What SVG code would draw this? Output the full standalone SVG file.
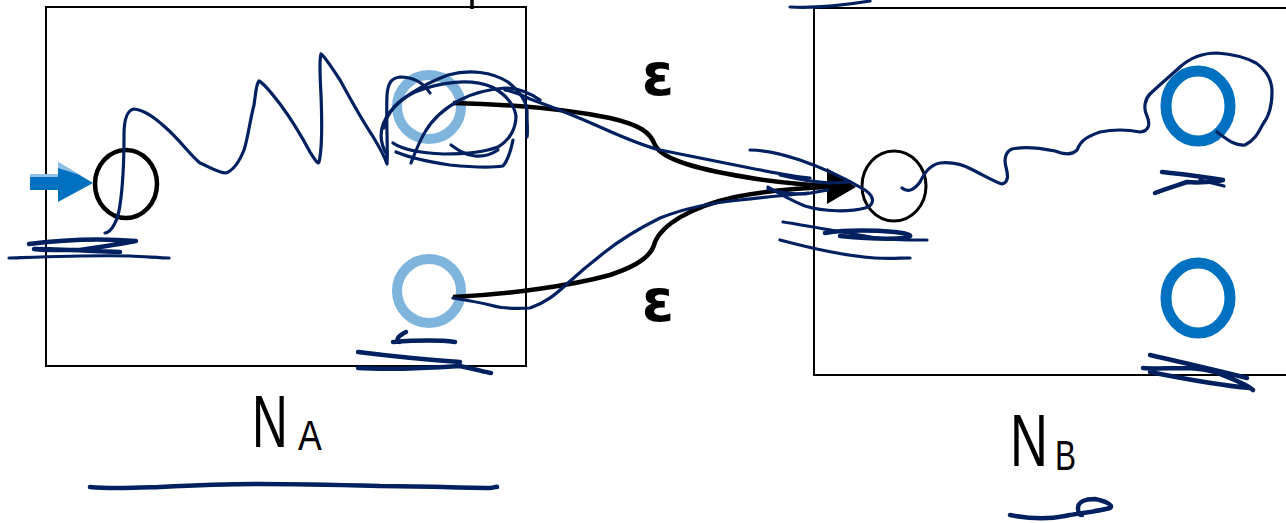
<svg xmlns="http://www.w3.org/2000/svg" width="1286" height="523" viewBox="0 0 1286 523">
<defs>
<style>
.box{fill:none;stroke:#000;stroke-width:2}
.ink{fill:none;stroke:#002060;stroke-width:3.2;stroke-linecap:round;stroke-linejoin:round}
.inkb{fill:none;stroke:#002060;stroke-width:4.5;stroke-linecap:round;stroke-linejoin:round}
.lb{fill:none;stroke:#7fb4dc;stroke-width:10}
.db{fill:none;stroke:#0070c0;stroke-width:11}
.conn{fill:none;stroke:#000;stroke-width:4.5}
.eps{font-family:"DejaVu Sans","Liberation Sans",sans-serif;font-weight:bold;font-size:58px;text-anchor:middle}
.lbl{font-family:"Liberation Sans",sans-serif;font-size:75px}
.sub{font-family:"Liberation Sans",sans-serif;font-size:42px}
</style>
</defs>
<rect width="1286" height="523" fill="#fff"/>
<line x1="472" y1="0" x2="472" y2="9" stroke="#000" stroke-width="3.5"/>
<g id="NA">
<rect class="box" x="46" y="7" width="480" height="359"/>
<text class="lbl" transform="translate(252,447) scale(0.66,1)">N</text>
<text class="sub" transform="translate(298,450) scale(0.85,1)">A</text>
</g>
<g id="NB">
<rect class="box" x="814" y="8" width="480" height="367"/>
<text class="lbl" transform="translate(1010,466) scale(0.7,1)">N</text>
<text class="sub" transform="translate(1055,470) scale(0.75,1)">B</text>
</g>
<g id="start-arrow">
<rect x="30" y="174" width="30" height="16" fill="#0070c0"/>
<polygon points="58,162 93,183 58,202" fill="#0070c0"/>
<polygon points="30,174 58,174 58,162 80,175 58,168 58,177 30,177" fill="#8fc0e6"/>
</g>
<g id="A-start"><ellipse cx="126" cy="184" rx="31" ry="34" fill="none" stroke="#000" stroke-width="4.5"/></g>
<g id="A-final1"><circle cx="429" cy="107" r="32" class="lb"/></g>
<g id="A-final2"><circle cx="429" cy="291" r="32" class="lb"/></g>
<g id="B-start"><ellipse cx="894" cy="186" rx="32" ry="35" fill="none" stroke="#000" stroke-width="3"/></g>
<g id="B-final1"><ellipse cx="1198" cy="106" rx="32" ry="35" class="db"/></g>
<g id="B-final2"><ellipse cx="1198" cy="298" rx="32" ry="35" class="db"/></g>
<g id="connectors">
<path class="conn" d="M453,103 C500,104 560,108 610,118 C640,125 650,132 655,145 C662,160 700,170 757,179 C785,183 805,185 830,186"/>
<path class="conn" d="M453,297 C510,294 570,286 610,275 C640,265 652,255 655,242 C662,225 690,207 735,197 C770,190 800,188 830,187"/>
<polygon points="827,168 856,187 827,204" fill="#000"/>
<text class="eps" x="658" y="95">ε</text>
<text class="eps" x="658" y="321">ε</text>
</g>
<g id="scribbles">
<path class="ink" d="M105,233 C112,232 118,220 120,205 C123,185 124,160 124,135 C124,118 128,110 134,109 C145,110 155,118 165,127 C180,140 190,155 200,163 C210,167 218,173 226,173 C234,170 240,160 244,150 C248,138 250,120 254,105 C256,92 256,84 259,81 C265,84 272,94 280,104 C292,120 302,137 310,152 C315,160 318,165 319,162 C322,150 322,120 321,95 C320,75 319,60 321,54 C326,58 332,68 340,80 C352,102 362,120 372,135 C380,148 385,158 387,164 C388,150 386,120 387,95 C388,82 392,78 400,77 C412,77 423,82 430,93"/>
<path class="ink" d="M387,155 C378,140 380,125 390,112 C402,97 422,85 448,75 C470,69 492,72 508,82 C520,92 528,102 527,115 C527,125 528,132 527,137"/>
<path class="ink" d="M393,143 C403,150 420,153 444,154 C465,154 485,152 498,147 C510,140 516,128 516,116 C514,104 505,94 492,87 C470,78 440,82 415,92 C398,100 386,113 384,128"/>
<path class="ink" d="M411,163 C416,150 420,140 425,132 C432,120 445,108 460,100 C475,92 492,89 505,88 C520,88 530,93 540,100"/>
<path class="ink" d="M396,152 C410,158 430,162 450,165 C470,167 490,168 503,166 C508,160 511,150 513,140"/>
<path class="ink" d="M451,145 C458,150 465,155 475,156 C485,157 492,154 498,150"/>
<path class="ink" d="M505,90 C515,92 522,95 530,99 C555,108 580,118 600,127 C620,136 640,145 660,150 C690,156 720,162 745,167 C770,172 790,176 810,178"/>
<path class="ink" d="M750,150 C765,150 785,155 800,160 C820,167 845,178 865,190 C875,197 875,205 865,208 C850,212 825,212 805,206 C790,200 778,193 768,187"/>
<path class="ink" d="M780,175 C800,180 815,182 830,183 L850,182"/>
<path class="ink" d="M453,298 C465,300 478,302 490,305 C500,308 515,309 530,308 C545,303 555,295 568,283 C580,272 592,262 605,252 C620,240 640,228 660,218 C685,208 710,203 740,200 C765,197 790,195 808,193"/>
<path class="ink" d="M768,189 C778,192 790,194 805,194 L828,190"/>
<path class="ink" d="M783,222 C810,226 840,232 865,236 C885,240 905,240 927,240"/>
<path class="ink" d="M780,240 C810,248 845,256 875,258 C890,259 900,258 910,258"/>
<path class="inkb" d="M825,233 C845,230 870,230 895,232 C910,234 915,236 905,238 C885,240 860,238 840,236"/>
<path class="ink" d="M902,188 C908,193 914,190 920,182 C925,172 930,165 940,163 C950,162 962,164 973,170 C985,176 995,182 1002,184 C1009,182 1008,175 1006,167 C1004,160 1005,152 1012,149 C1025,146 1040,148 1055,151 C1065,155 1072,155 1077,150 C1080,142 1085,137 1100,132 C1115,129 1130,130 1140,132 C1150,131 1150,123 1147,116 C1143,108 1145,99 1150,94 C1158,86 1168,78 1180,67 C1190,58 1202,53 1217,53 C1232,54 1245,57 1256,63 C1266,70 1272,80 1272,92 C1272,105 1270,115 1263,124 C1258,133 1255,140 1245,145 C1235,146 1228,140 1217,132"/>
<path class="inkb" d="M1162,172 C1180,174 1200,176 1223,180 C1215,182 1198,183 1187,182 C1175,186 1162,190 1155,193"/>
<path class="ink" d="M1200,180 L1224,186"/>
<path class="inkb" d="M1150,355 C1180,362 1215,370 1247,378 M1143,368 C1165,370 1190,365 1215,372 C1230,378 1245,383 1253,390 M1150,372 C1180,378 1215,385 1250,388"/>
<path class="inkb" d="M29,244 C60,240 100,238 136,241 C120,244 100,247 80,250 C60,250 40,250 34,249 C60,249 90,251 120,252"/>
<path class="ink" d="M9,258 C40,257 90,255 130,256 C150,257 162,258 169,258"/>
<path class="inkb" d="M393,342 C420,340 440,340 455,342 M406,332 C398,336 395,340 400,342"/>
<path class="inkb" d="M358,352 C390,356 430,360 460,362 M358,368 C390,370 430,368 460,366 C475,369 485,372 491,373"/>
<path class="inkb" d="M90,487 C110,489 130,488 160,487 C200,485 230,484 260,484 C300,484 340,485 380,486 C420,486 460,488 490,488 C495,488 497,486 497,487"/>
<path class="inkb" d="M1010,515 C1025,518 1045,520 1065,516 C1080,513 1095,512 1110,508 C1114,505 1105,501 1095,499 C1085,499 1078,502 1078,508 C1078,513 1080,515 1082,515"/>
<path class="ink" d="M790,7 C810,8 840,6 870,1"/>
</g>
</svg>
